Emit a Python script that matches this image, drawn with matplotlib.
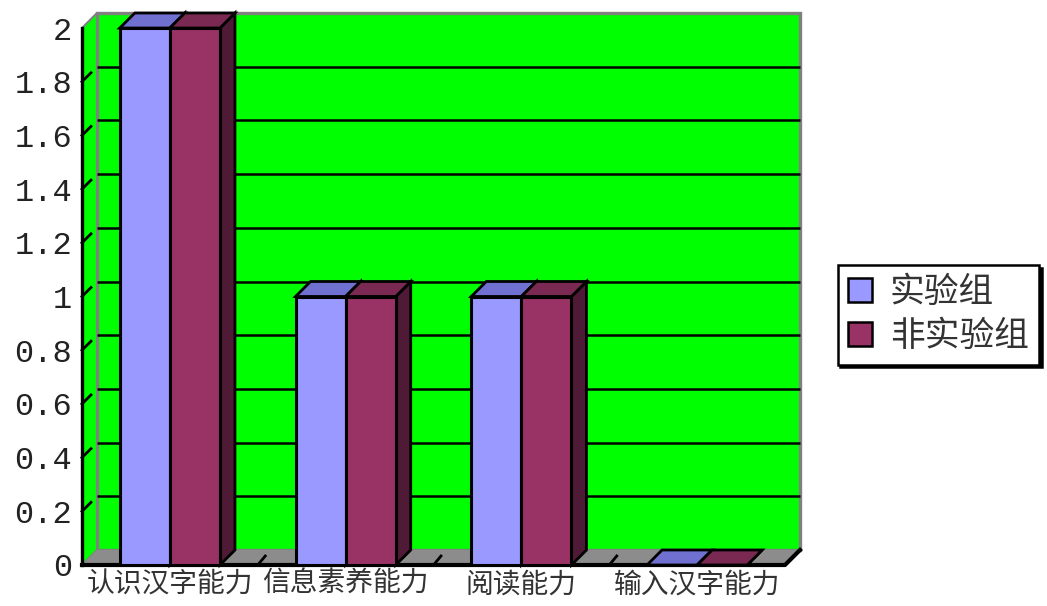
#!/usr/bin/env python3
"""Excel-style 3D clustered bar chart: 实验组 vs 非实验组."""

import matplotlib
matplotlib.use("Agg")
import matplotlib.pyplot as plt
import matplotlib.patches as mpatches
from matplotlib.patches import Polygon

plt.rcParams["font.family"] = ["Noto Sans CJK SC", "DejaVu Sans"]

categories = ["认识汉字能力", "信息素养能力", "阅读能力", "输入汉字能力"]
series_names = ["实验组", "非实验组"]
exp_values = [2, 1, 1, 0]
ctrl_values = [2, 1, 1, 0]
y_ticks = [0, 0.2, 0.4, 0.6, 0.8, 1, 1.2, 1.4, 1.6, 1.8, 2]
y_tick_labels = ["0", "0.2", "0.4", "0.6", "0.8", "1", "1.2", "1.4", "1.6", "1.8", "2"]

FRONT = ["#9999ff", "#993366"]
TOP = ["#7070d0", "#7a2952"]
SIDE = ["#5050a0", "#4f1a35"]
WALL = "#00ff00"
FLOOR = "#8c8c8c"
EDGE_GREY = "#808080"

W, H, DPI = 1047, 606, 100
DX_PX, DY_PX = 15, 15
BAR_W = 0.285


def main():
    fig = plt.figure(figsize=(W / DPI, H / DPI), dpi=DPI)
    fig.patch.set_facecolor("white")

    left, right, top, bottom = 82, 785, 28, 565
    ax = fig.add_axes([left / W, 1 - bottom / H, (right - left) / W, (bottom - top) / H])
    ax.set_facecolor("none")
    xmin, xmax = -0.5, len(categories) - 0.5
    ymin, ymax = 0, 2
    ax.set_xlim(xmin, xmax)
    ax.set_ylim(ymin, ymax)
    for s in ax.spines.values():
        s.set_visible(False)

    # depth offset in data units
    ddx = DX_PX / (right - left) * (xmax - xmin)
    ddy = DY_PX / (bottom - top) * (ymax - ymin)

    def poly(pts, fc, ec="black", lw=1.4, z=1):
        p = Polygon(pts, closed=True, facecolor=fc, edgecolor=ec, linewidth=lw,
                    clip_on=False, zorder=z, joinstyle="miter")
        ax.add_patch(p)

    # walls and floor
    poly([(xmin + ddx, ddy), (xmax + ddx, ddy), (xmax + ddx, ymax + ddy),
          (xmin + ddx, ymax + ddy)], WALL, ec=EDGE_GREY, lw=2.4, z=0.5)
    poly([(xmin, 0), (xmin + ddx, ddy), (xmin + ddx, ymax + ddy), (xmin, ymax)],
         WALL, ec=EDGE_GREY, lw=1.5, z=0.6)
    poly([(xmin, 0), (xmax, 0), (xmax + ddx, ddy), (xmin + ddx, ddy)],
         FLOOR, ec="none", lw=0, z=0.6)

    # gridlines on back wall + side wall
    for v in y_ticks[1:-1]:
        ax.plot([xmin + ddx, xmax + ddx], [v + ddy, v + ddy], color="black",
                lw=1.8, clip_on=False, zorder=0.8, solid_capstyle="butt")
        ax.plot([xmin, xmin + ddx * 0.6], [v, v + ddy * 0.6], color="black",
                lw=2.0, clip_on=False, zorder=0.8)

    # axis lines
    ax.plot([xmin, xmin], [0, ymax], color="black", lw=2.4, clip_on=False, zorder=0.9)
    ax.plot([xmin, xmax, xmax + ddx], [0, 0, ddy], color="black", lw=3.0,
            clip_on=False, zorder=0.9)
    # category separator ticks on floor
    for i in range(1, len(categories)):
        x = xmin + i
        ax.plot([x, x + ddx * 0.5], [0, ddy * 0.6], color="black", lw=2.0,
                clip_on=False, zorder=0.9)

    # bars
    xs = list(range(len(categories)))
    for k, vals in enumerate([exp_values, ctrl_values]):
        offs = (k - 0.5) * BAR_W
        bars = ax.bar([x + offs for x in xs], vals, width=BAR_W, color=FRONT[k],
                      edgecolor="black", linewidth=2.2, zorder=3 + k * 2,
                      label=series_names[k])
        for b in bars:
            x0, x1 = b.get_x(), b.get_x() + b.get_width()
            h = b.get_height()
            poly([(x1, 0), (x1 + ddx, ddy), (x1 + ddx, h + ddy), (x1, h)],
                 SIDE[k], lw=2.0, z=2 + k * 2)
            poly([(x0, h), (x0 + ddx, h + ddy), (x1 + ddx, h + ddy), (x1, h)],
                 TOP[k], lw=2.0, z=2 + k * 2)

    ax.set_xticks(xs)
    ax.set_xticklabels(categories, fontsize=20, color="#333333")
    ax.set_yticks(y_ticks)
    ax.set_yticklabels(y_tick_labels, fontsize=23, family="Liberation Mono", color="#222222")
    ax.tick_params(axis="both", length=0)
    ax.tick_params(axis="y", pad=7)
    ax.tick_params(axis="x", pad=3)

    handles = [mpatches.Patch(facecolor=FRONT[k], edgecolor="black", linewidth=1.8,
                              label=series_names[k]) for k in range(2)]
    leg = fig.legend(handles=handles, loc="upper left", bbox_to_anchor=(0.800, 0.5627),
                     fontsize=25, frameon=True, fancybox=False, borderpad=0.3,
                     handlelength=0.7, handleheight=0.7, handletextpad=0.5,
                     labelspacing=0.25, borderaxespad=0,
                     shadow={"color": "black", "alpha": 1})
    leg.get_frame().set_edgecolor("black")
    leg.get_frame().set_linewidth(1.8)
    for t in leg.get_texts():
        t.set_color("#333333")

    fig.savefig("out.png", dpi=DPI, facecolor=fig.get_facecolor())


if __name__ == "__main__":
    main()
